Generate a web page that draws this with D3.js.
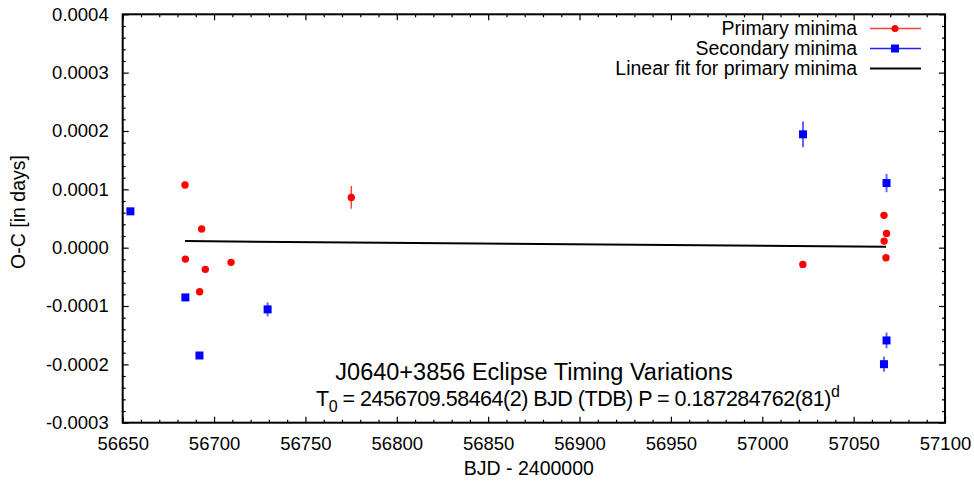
<!DOCTYPE html>
<html lang="en">
<head>
<meta charset="UTF-8">
<title>J0640+3856 Eclipse Timing Variations</title>
<script src="https://cdn.jsdelivr.net/npm/d3@7/dist/d3.min.js"></script>
<style>
	body { margin: 0; background: #fff; }
	svg { display: block; }
	text { font-family: "Liberation Sans", Arial, Helvetica, sans-serif; fill: #000; }
	.axis .domain { display: none; }
	.axis line { stroke: #000; stroke-width: 1.2; }
	.axis text { font-size: 18.5px; }
</style>
</head>
<body>
<svg width="974" height="483"></svg>
<script>
	// values
	var xTicks = [56650, 56700, 56750, 56800, 56850, 56900, 56950, 57000, 57050, 57100];
	var yTicks = [-0.0003, -0.0002, -0.0001, 0, 0.0001, 0.0002, 0.0003, 0.0004];

	var primaryX   = [56684.1, 56693.2, 56684.3, 56695.2, 56709.3, 56692.1, 56775.1, 57022.2, 57066.6, 57068.0, 57066.7, 57067.7];
	var primaryY   = [0.0001074, 0.0000319, -0.0000196, -0.0000372, -0.0000252, -0.0000756, 0.0000862, -0.0000287, 0.0000554, 0.0000245, 0.0000113, -0.0000173];
	var primaryErr = [0.000003, 0.000003, 0.000003, 0.000003, 0.000003, 0.000003, 0.0000194, 0.000003, 0.000003, 0.000003, 0.000003, 0.000003];

	var secondaryX   = [56654.2, 56684.3, 56692.0, 56729.3, 57022.3, 57068.0, 57068.0, 57066.6];
	var secondaryY   = [0.0000623, -0.0000853, -0.0001848, -0.0001058, 0.0001943, 0.0001108, -0.000159, -0.0001997];
	var secondaryErr = [0.000004, 0.000004, 0.000004, 0.000012, 0.000022, 0.0000157, 0.0000135, 0.000013];

	var fitX = [56684.1, 57067.7];
	var fitY = [0.0000113, 0.0000017];

	var legendNames = ["Primary minima", "Secondary minima", "Linear fit for primary minima"];

	var margin = { top: 14.3, right: 29, bottom: 60.3, left: 122.7 },
		width = 974,
		height = 483;

	var svg = d3.select("svg");

	var x = d3.scaleLinear()
		.domain([56650, 57100])
		.range([margin.left, width - margin.right]);
	var y = d3.scaleLinear()
		.domain([-0.0003, 0.0004])
		.range([height - margin.bottom, margin.top]);

	var xMinor = d3.range(56650, 57101, 10).filter(d => xTicks.indexOf(d) < 0);
	var yMinor = d3.range(-15, 21).map(d => d * 0.00002).filter(d => Math.abs(Math.round(d / 0.00002)) % 5 != 0);

	// ticks point inside the frame, mirrored on all four sides
	function addAxis(axis, tx, ty) {
		return svg.append("g")
			.attr("class", "axis")
			.attr("transform", "translate(" + tx + "," + ty + ")")
			.call(axis);
	}
	var yb = y.range()[0], yt = y.range()[1], xl = x.range()[0], xr = x.range()[1];

	addAxis(d3.axisBottom(x).tickValues(xTicks).tickSize(-6).tickPadding(14).tickFormat(d => d), 0, yb);
	addAxis(d3.axisBottom(x).tickValues(xMinor).tickSize(-3).tickFormat(""), 0, yb);
	addAxis(d3.axisTop(x).tickValues(xTicks).tickSize(-6).tickFormat(""), 0, yt);
	addAxis(d3.axisTop(x).tickValues(xMinor).tickSize(-3).tickFormat(""), 0, yt);
	addAxis(d3.axisLeft(y).tickValues(yTicks).tickSize(-6).tickPadding(14).tickFormat(d => d.toFixed(4)), xl, 0);
	addAxis(d3.axisLeft(y).tickValues(yMinor).tickSize(-3).tickFormat(""), xl, 0);
	addAxis(d3.axisRight(y).tickValues(yTicks).tickSize(-6).tickFormat(""), xr, 0);
	addAxis(d3.axisRight(y).tickValues(yMinor).tickSize(-3).tickFormat(""), xr, 0);

	svg.selectAll(".axis text").attr("fill", "#000");

	// frame
	svg.append("rect")
		.attr("x", xl).attr("y", yt)
		.attr("width", xr - xl).attr("height", yb - yt)
		.attr("fill", "none")
		.attr("stroke", "#000")
		.attr("stroke-width", 2);

	// axis labels
	svg.append("text")
		.attr("x", (xl + xr) / 2 - 5)
		.attr("y", 475)
		.attr("text-anchor", "middle")
		.style("font-size", "19.5px")
		.text("BJD - 2400000");
	svg.append("text")
		.attr("transform", "translate(25," + 212 + ") rotate(-90)")
		.attr("text-anchor", "middle")
		.style("font-size", "19.5px")
		.text("O-C [in days]");

	// linear fit
	var fit = fitX.map((d, i) => ({ x: d, y: fitY[i] }));
	svg.append("path")
		.attr("d", d3.line().x(d => x(d.x)).y(d => y(d.y))(fit))
		.attr("fill", "none")
		.attr("stroke", "#000")
		.attr("stroke-width", 2);

	var prim = primaryX.map((d, i) => ({ x: d, y: primaryY[i], e: primaryErr[i] }));
	var sec = secondaryX.map((d, i) => ({ x: d, y: secondaryY[i], e: secondaryErr[i] }));

	// error bars
	svg.append("g").selectAll("line").data(prim).enter().append("line")
		.attr("x1", d => x(d.x)).attr("x2", d => x(d.x))
		.attr("y1", d => y(d.y - d.e)).attr("y2", d => y(d.y + d.e))
		.attr("stroke", "#ff0000").attr("stroke-opacity", 0.75).attr("stroke-width", 1.5);
	svg.append("g").selectAll("line").data(sec).enter().append("line")
		.attr("x1", d => x(d.x)).attr("x2", d => x(d.x))
		.attr("y1", d => y(d.y - d.e)).attr("y2", d => y(d.y + d.e))
		.attr("stroke", "#0000ff").attr("stroke-opacity", 0.6).attr("stroke-width", 2);

	// markers
	svg.append("g").selectAll("circle").data(prim).enter().append("circle")
		.attr("cx", d => x(d.x)).attr("cy", d => y(d.y))
		.attr("r", 3.7)
		.attr("fill", "#ff0000");
	svg.append("g").selectAll("rect").data(sec).enter().append("rect")
		.attr("x", d => x(d.x) - 4).attr("y", d => y(d.y) - 4)
		.attr("width", 8).attr("height", 8)
		.attr("fill", "#0000ff");

	// legend
	var legend = svg.append("g")
		.selectAll("g")
		.data(legendNames)
		.enter()
		.append("g")
		.attr("transform", (d, i) => "translate(0," + (28.5 + i * 20) + ")");
	legend.append("text")
		.attr("x", 857)
		.attr("dy", "0.35em")
		.attr("text-anchor", "end")
		.style("font-size", "19.5px")
		.text(d => d);
	legend.append("line")
		.attr("x1", 870).attr("x2", 921)
		.attr("stroke", (d, i) => ["#ff4040", "#2020ff", "#000"][i])
		.attr("stroke-width", (d, i) => i == 2 ? 2 : 1.3);
	legend.filter((d, i) => i == 0).append("circle")
		.attr("cx", 895).attr("r", 3.5).attr("fill", "#ff0000");
	legend.filter((d, i) => i == 1).append("rect")
		.attr("x", 891).attr("y", -4).attr("width", 8).attr("height", 8).attr("fill", "#0000ff");

	// title inside the plot
	svg.append("text")
		.attr("x", 534)
		.attr("y", 380)
		.attr("text-anchor", "middle")
		.style("font-size", "23.5px")
		.text("J0640+3856 Eclipse Timing Variations");
	var t2 = svg.append("text")
		.attr("x", 316)
		.attr("y", 406)
		.style("font-size", "21.5px")
		.style("letter-spacing", "-0.5px");
	t2.append("tspan").text("T");
	t2.append("tspan").attr("dy", 6).style("font-size", "16px").text("0");
	t2.append("tspan").attr("dy", -6).text(" = 2456709.58464(2) BJD (TDB) P = 0.187284762(81)");
	t2.append("tspan").attr("dy", -9).style("font-size", "16px").text("d");
</script>
</body>
</html>
